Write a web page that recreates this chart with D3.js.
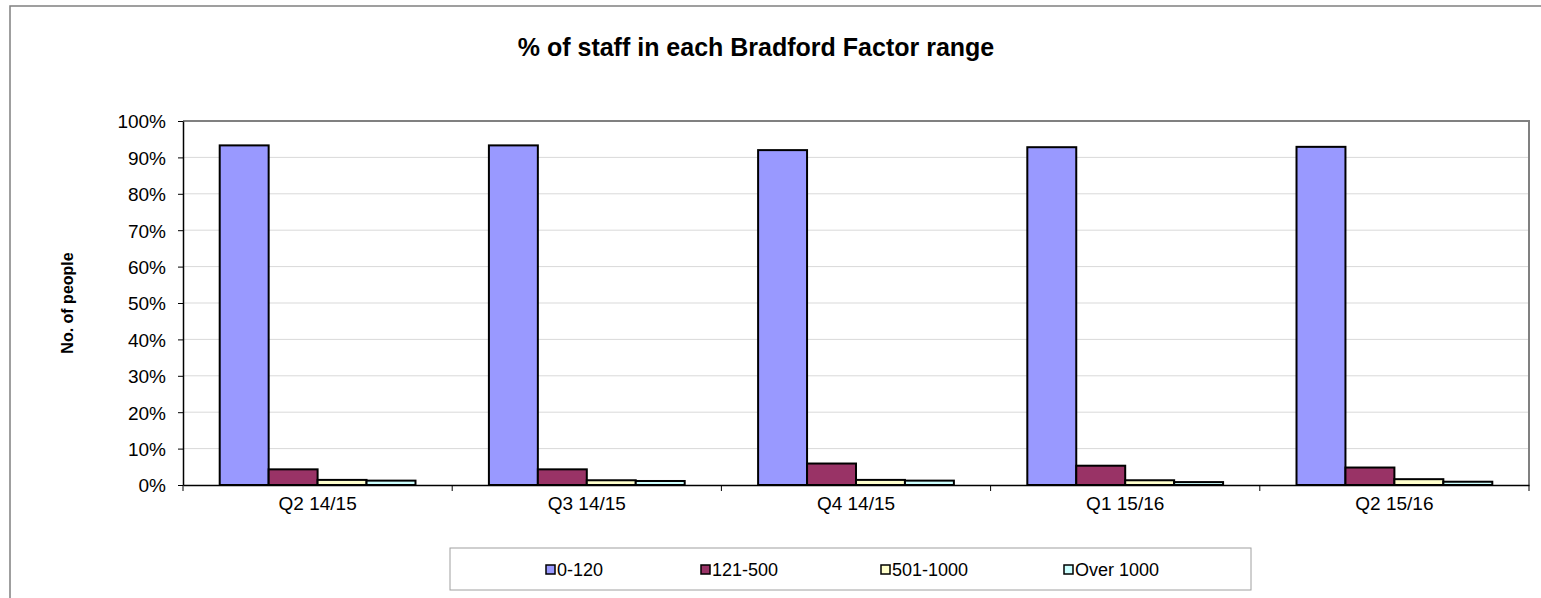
<!DOCTYPE html>
<html>
<head>
<meta charset="utf-8">
<script src="https://cdn.jsdelivr.net/npm/d3@7"></script>
<style>
  body { margin: 0; background: #fff; }
  text { font-family: "Liberation Sans", Arial, sans-serif; }
</style>
</head>
<body>
<div id="chart"></div>
<script>
// chart data
var quarters = ["Q2 14/15", "Q3 14/15", "Q4 14/15", "Q1 15/16", "Q2 15/16"];
var ranges = ["0-120", "121-500", "501-1000", "Over 1000"];
var range0to120 = [93.3, 93.3, 92.0, 92.8, 92.9];
var range121to500 = [4.3, 4.3, 5.9, 5.3, 4.8];
var range501to1000 = [1.4, 1.3, 1.4, 1.3, 1.6];
var rangeOver1000 = [1.2, 1.1, 1.2, 0.8, 0.9];
var yTicks = [0, 10, 20, 30, 40, 50, 60, 70, 80, 90, 100];

var series = [range0to120, range121to500, range501to1000, rangeOver1000];
var colors = ["#9999FF", "#993366", "#FFFFCC", "#CCFFFF"];

var width = 1541, height = 598;
var margin = {left: 183, top: 121, right: 10, bottom: 113};

var svg = d3.select("#chart")
  .append("svg")
    .attr("width", width)
    .attr("height", height);

// outer chart border
svg.append("rect")
  .attr("x", 10).attr("y", 6)
  .attr("width", width + 20).attr("height", height + 20)
  .attr("fill", "none")
  .attr("stroke", "#808080")
  .attr("stroke-width", 1.5);

var x0 = d3.scaleBand()
  .domain(quarters)
  .range([margin.left, width - margin.right - 2])
  .paddingInner(0)
  .paddingOuter(0);

var x1 = d3.scaleBand()
  .domain(ranges)
  .range([0, x0.bandwidth()])
  .paddingInner(0)
  .paddingOuter(0.75); // gap 150% of a bar -> 0.75 bar each side

var y = d3.scaleLinear()
  .domain([0, 100])
  .range([height - margin.bottom, margin.top]);

var plotL = x0.range()[0], plotR = x0.range()[1];

// gridlines
svg.append("g")
  .selectAll("line")
  .data(yTicks.slice(1, -1))
  .enter()
  .append("line")
    .attr("x1", plotL).attr("x2", plotR)
    .attr("y1", function(d) { return y(d); })
    .attr("y2", function(d) { return y(d); })
    .attr("stroke", "#d9d9d9")
    .attr("stroke-width", 1);

// plot area border (top/right gray)
svg.append("path")
  .attr("d", "M" + plotL + "," + y(100) + "H" + plotR + "V" + y(0))
  .attr("fill", "none")
  .attr("stroke", "#808080")
  .attr("stroke-width", 2);

// bars
var groups = svg.append("g")
  .selectAll("g")
  .data(quarters)
  .enter()
  .append("g")
    .attr("transform", function(d) { return "translate(" + x0(d) + ",0)"; });

groups.selectAll("rect")
  .data(function(d, i) { return ranges.map(function(r, j) { return {range: r, value: series[j][i]}; }); })
  .enter()
  .append("rect")
    .attr("x", function(d) { return x1(d.range); })
    .attr("y", function(d) { return y(d.value); })
    .attr("width", x1.bandwidth())
    .attr("height", function(d) { return y(0) - y(d.value); })
    .attr("fill", function(d, j) { return colors[j]; })
    .attr("stroke", "#000")
    .attr("stroke-width", 2);

// y axis
var yAxis = svg.append("g")
  .attr("transform", "translate(" + plotL + ",0)")
  .call(d3.axisLeft(y).tickValues(yTicks).tickFormat(function(d) { return d + "%"; }).tickSize(5).tickSizeOuter(0));
yAxis.select(".domain").attr("stroke", "#000").attr("stroke-width", 1.5);
yAxis.selectAll(".tick line").attr("stroke", "#000");
yAxis.selectAll(".tick text")
  .attr("x", -17)
  .attr("dy", "0.36em")
  .style("font-size", "19px")
  .style("font-family", "'Liberation Sans', Arial, sans-serif")
  .attr("fill", "#000");

// x axis
var xAxis = svg.append("g")
  .attr("transform", "translate(0," + y(0) + ")")
  .call(d3.axisBottom(x0).tickSize(0).tickSizeOuter(0));
xAxis.select(".domain").attr("stroke", "#000").attr("stroke-width", 1.5);
xAxis.selectAll(".tick text")
  .attr("y", 12)
  .attr("dy", "0.71em")
  .style("font-size", "19px")
  .style("font-family", "'Liberation Sans', Arial, sans-serif")
  .attr("fill", "#000");

// category boundary ticks
svg.append("g")
  .selectAll("line")
  .data(quarters.concat(["end"]))
  .enter()
  .append("line")
    .attr("x1", function(d, i) { return plotL + i * x0.bandwidth(); })
    .attr("x2", function(d, i) { return plotL + i * x0.bandwidth(); })
    .attr("y1", y(0))
    .attr("y2", y(0) + 6)
    .attr("stroke", "#000")
    .attr("stroke-width", 1);

// title
svg.append("text")
  .attr("x", 756)
  .attr("y", 56)
  .attr("text-anchor", "middle")
  .style("font-size", "25px")
  .style("font-weight", "bold")
  .text("% of staff in each Bradford Factor range");

// y axis label
svg.append("text")
  .attr("transform", "translate(73,303) rotate(-90)")
  .attr("text-anchor", "middle")
  .style("font-size", "16px")
  .style("font-weight", "bold")
  .text("No. of people");

// legend
var legend = svg.append("g");
legend.append("rect")
  .attr("x", 450).attr("y", 548)
  .attr("width", 801).attr("height", 42)
  .attr("fill", "#fff")
  .attr("stroke", "#a0a0a0")
  .attr("stroke-width", 1);

var legendX = [546, 701, 881, 1064];
var item = legend.selectAll("g.item")
  .data(ranges)
  .enter()
  .append("g")
    .attr("class", "item")
    .attr("transform", function(d, i) { return "translate(" + legendX[i] + ",570)"; });

item.append("rect")
  .attr("x", 0).attr("y", -5)
  .attr("width", 9).attr("height", 9)
  .attr("fill", function(d, i) { return colors[i]; })
  .attr("stroke", "#000")
  .attr("stroke-width", 1.5);

item.append("text")
  .attr("x", 11)
  .attr("y", 0)
  .attr("dy", "0.36em")
  .style("font-size", "18px")
  .text(function(d) { return d; });
</script>
</body>
</html>
